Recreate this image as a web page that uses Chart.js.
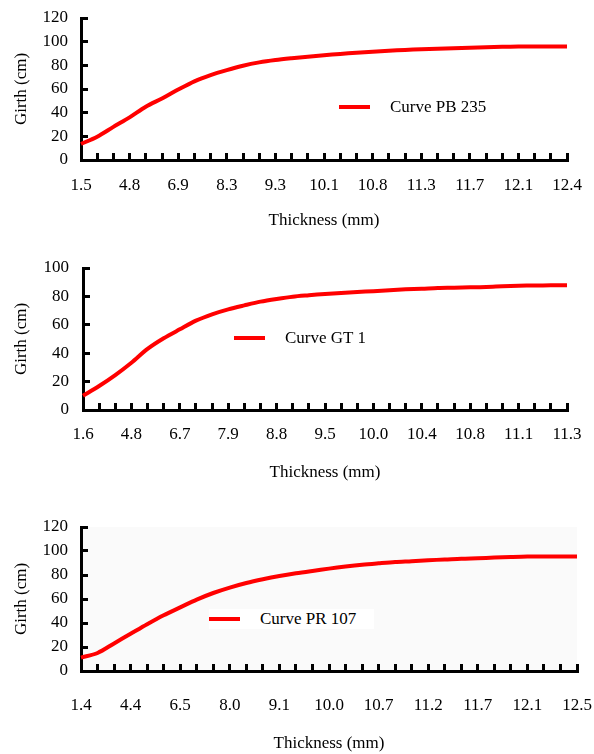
<!DOCTYPE html>
<html>
<head>
<meta charset="utf-8">
<script src="https://cdn.jsdelivr.net/npm/chart.js@4.4.1/dist/chart.umd.min.js"></script>
<style>
  body { margin: 0; background: #fff; width: 594px; height: 754px; position: relative; overflow: hidden; font-family: "Liberation Serif", "Times New Roman", "DejaVu Serif", serif; }
  .box { position: absolute; left: 0; width: 594px; }
  .legend { position: absolute; height: 20px; display: flex; align-items: center; font-size: 17px; color: #000; white-space: nowrap; }
  .legend .bar { display: inline-block; width: 31px; height: 4px; background: #ff0000; margin-right: 20px; }
</style>
</head>
<body>
<div class="box" style="top:0;height:240px"><canvas id="pbChart"></canvas></div>
<div class="box" style="top:250px;height:240px"><canvas id="gtChart"></canvas></div>
<div class="box" style="top:500px;height:254px"><canvas id="prChart"></canvas></div>

<div class="legend" style="left:339px;top:97px"><span class="bar"></span>Curve PB 235</div>
<div class="legend" style="left:234px;top:328px"><span class="bar"></span>Curve GT 1</div>
<div class="legend" style="left:209px;top:609px;background:#fff;padding-right:18px"><span class="bar"></span>Curve PR 107</div>

<script>
// shown thickness labels (every third category)
const pbTicks = ["1.5", "4.8", "6.9", "8.3", "9.3", "10.1", "10.8", "11.3", "11.7", "12.1", "12.4"];
const gtTicks = ["1.6", "4.8", "6.7", "7.9", "8.8", "9.5", "10.0", "10.4", "10.8", "11.1", "11.3"];
const prTicks = ["1.4", "4.4", "6.5", "8.0", "9.1", "10.0", "10.7", "11.2", "11.7", "12.1", "12.5"];

// girth (cm)
const pbGirth = [13.5, 19.7, 28, 36, 45, 52, 59.5, 66.5, 71.8, 76, 79.7, 82.5, 84.5, 86, 87.3, 88.5, 89.6, 90.6, 91.5, 92.3,
  93, 93.6, 94.1, 94.5, 94.9, 95.2, 95.6, 95.9, 96, 96, 96];
const gtGirth = [10, 16.9, 24.6, 33.3, 43, 50.5, 56.8, 62.9, 67.4, 70.9, 73.7, 76.3, 78.2, 79.8, 80.8, 81.7, 82.4, 83.1, 83.7, 84.4,
  85, 85.4, 85.9, 86.1, 86.4, 86.6, 87.1, 87.5, 87.7, 87.8, 87.8];
const prGirth = [11.2, 15, 23, 31, 39, 46.5, 53, 59.5, 65, 69.5, 73.3, 76.4, 79.1, 81.4, 83.4, 85.3, 87, 88.5, 89.7, 90.8,
  91.5, 92.3, 92.9, 93.6, 94, 94.5, 95, 95.4, 95.5, 95.5, 95.5];

const font = { family: "'Liberation Serif', 'Times New Roman', 'DejaVu Serif', serif", size: 17 };

function categoryLabels(ticks, count) {
  const out = [];
  for (let i = 0; i < count; i++) out.push(i % 3 === 0 ? ticks[i / 3] : "");
  return out;
}

const plotBg = {
  id: "plotBg",
  beforeDraw(chart, args, opts) {
    if (!opts.color) return;
    const a = chart.chartArea;
    chart.ctx.save();
    chart.ctx.fillStyle = opts.color;
    chart.ctx.fillRect(a.left, a.top, a.right - a.left, a.bottom - a.top);
    chart.ctx.restore();
  },
};

function makeChart(id, ticks, values, yMax, lay) {
  return new Chart(document.getElementById(id), {
    type: "line",
    data: {
      labels: categoryLabels(ticks, values.length),
      datasets: [
        {
          data: values,
          borderColor: "#ff0000",
          borderWidth: 4,
          pointRadius: 0,
          tension: 0.3,
          fill: false,
        },
      ],
    },
    options: {
      responsive: true,
      maintainAspectRatio: false,
      animation: false,
      layout: { padding: { left: 11, right: 594 - lay.right, top: lay.top, bottom: lay.bottom } },
      plugins: {
        legend: { display: false },
        tooltip: { enabled: false },
        plotBg: { color: lay.bg },
      },
      scales: {
        x: {
          ticks: { autoSkip: false, maxRotation: 0, color: "#000", font, padding: lay.xPad },
          grid: { drawOnChartArea: false, tickLength: -7, color: "#000", lineWidth: 3 },
          border: { color: "#000", width: 3 },
          title: { display: true, text: "Thickness (mm)", color: "#000", font, padding: 0 },
          afterFit(s) {
            s.height = lay.xHeight;
            s.paddingLeft = 0;
            s.paddingRight = 0;
          },
        },
        y: {
          min: 0,
          max: yMax,
          ticks: { stepSize: 20, autoSkip: false, color: "#000", font, padding: lay.yPad },
          grid: { drawOnChartArea: false, tickLength: -7, color: "#000", lineWidth: 3 },
          border: { color: "#000", width: 3 },
          title: { display: true, text: "Girth (cm)", color: "#000", font, padding: 0 },
          afterFit(s) {
            s.width = lay.left - 11;
            s.paddingTop = 0;
            s.paddingBottom = 0;
          },
        },
      },
    },
    plugins: [plotBg],
  });
}

makeChart("pbChart", pbTicks, pbGirth, 120, { left: 81, right: 567, top: 18, bottom: 9, xHeight: 71, xPad: 22, yPad: 20 });
makeChart("gtChart", gtTicks, gtGirth, 100, { left: 83, right: 567, top: 18, bottom: 7, xHeight: 73, xPad: 21, yPad: 21 });
makeChart("prChart", prTicks, prGirth, 120, { left: 81, right: 577, top: 27, bottom: 0, xHeight: 83, xPad: 31, yPad: 20, bg: "#fafafa" });
</script>
</body>
</html>
